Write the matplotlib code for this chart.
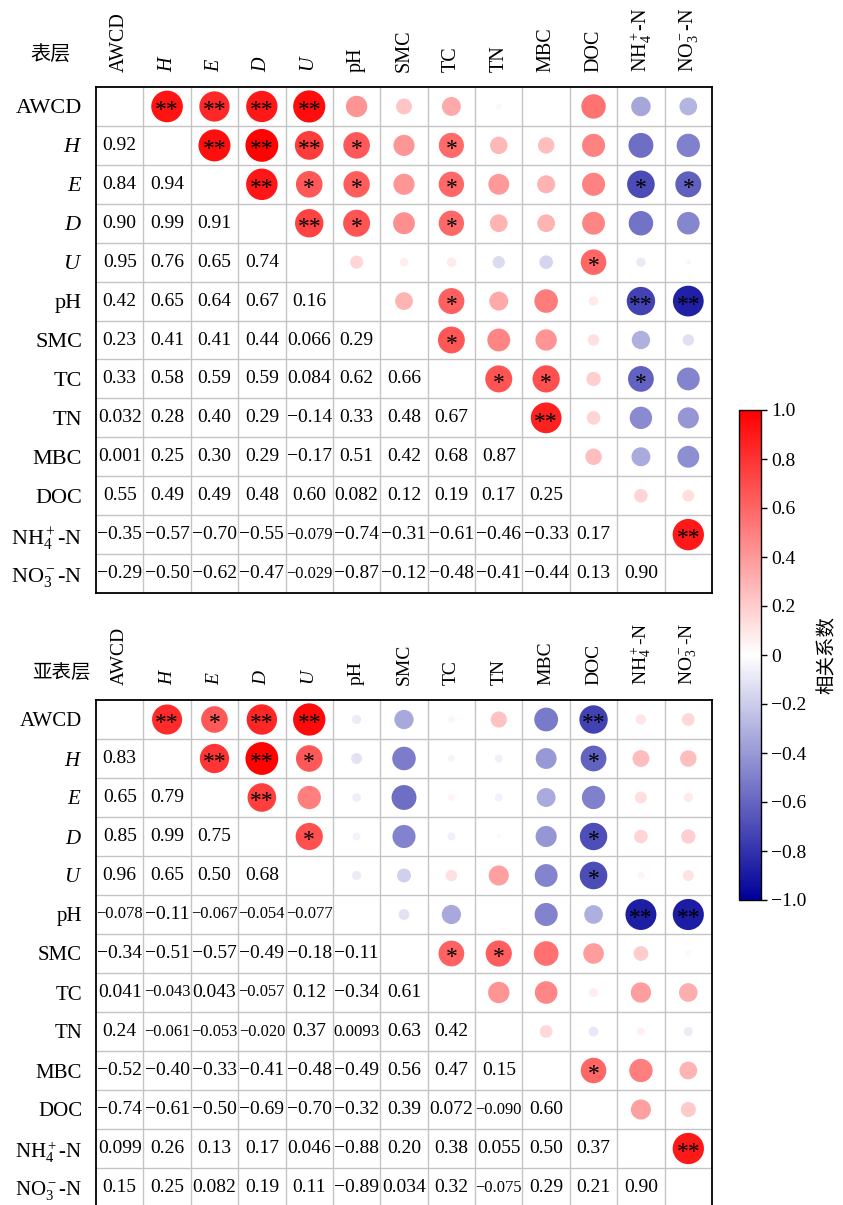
import numpy as np
import matplotlib

matplotlib.use("Agg")
import matplotlib.pyplot as plt
from matplotlib.colors import LinearSegmentedColormap, Normalize
from matplotlib.cm import ScalarMappable
from matplotlib.transforms import offset_copy

plt.rcParams.update({
    "font.family": ["Liberation Serif", "Noto Sans CJK SC"],
    "mathtext.fontset": "custom",
    "mathtext.rm": "Liberation Serif",
    "mathtext.it": "Liberation Serif:italic",
    "mathtext.bf": "Liberation Serif:bold",
    "axes.unicode_minus": True,
})

# nombres internos y etiquetas mostradas
NOMBRES = ["AWCD", "H", "E", "D", "U", "pH", "SMC", "TC", "TN", "MBC", "DOC", "NH4", "NO3"]
ETIQUETAS = ["AWCD", "$H$", "$E$", "$D$", "$U$", "pH", "SMC", "TC", "TN", "MBC", "DOC",
             "NH$_4^+$-N", "NO$_3^-$-N"]

# triángulo inferior: coeficientes tal como aparecen impresos
SUP_INFERIOR = [
    [],
    ["0.92"],
    ["0.84", "0.94"],
    ["0.90", "0.99", "0.91"],
    ["0.95", "0.76", "0.65", "0.74"],
    ["0.42", "0.65", "0.64", "0.67", "0.16"],
    ["0.23", "0.41", "0.41", "0.44", "0.066", "0.29"],
    ["0.33", "0.58", "0.59", "0.59", "0.084", "0.62", "0.66"],
    ["0.032", "0.28", "0.40", "0.29", "−0.14", "0.33", "0.48", "0.67"],
    ["0.001", "0.25", "0.30", "0.29", "−0.17", "0.51", "0.42", "0.68", "0.87"],
    ["0.55", "0.49", "0.49", "0.48", "0.60", "0.082", "0.12", "0.19", "0.17", "0.25"],
    ["−0.35", "−0.57", "−0.70", "−0.55", "−0.079", "−0.74", "−0.31", "−0.61", "−0.46",
     "−0.33", "0.17"],
    ["−0.29", "−0.50", "−0.62", "−0.47", "−0.029", "−0.87", "−0.12", "−0.48", "−0.41",
     "−0.44", "0.13", "0.90"],
]

SUB_INFERIOR = [
    [],
    ["0.83"],
    ["0.65", "0.79"],
    ["0.85", "0.99", "0.75"],
    ["0.96", "0.65", "0.50", "0.68"],
    ["−0.078", "−0.11", "−0.067", "−0.054", "−0.077"],
    ["−0.34", "−0.51", "−0.57", "−0.49", "−0.18", "−0.11"],
    ["0.041", "−0.043", "0.043", "−0.057", "0.12", "−0.34", "0.61"],
    ["0.24", "−0.061", "−0.053", "−0.020", "0.37", "0.0093", "0.63", "0.42"],
    ["−0.52", "−0.40", "−0.33", "−0.41", "−0.48", "−0.49", "0.56", "0.47", "0.15"],
    ["−0.74", "−0.61", "−0.50", "−0.69", "−0.70", "−0.32", "0.39", "0.072", "−0.090", "0.60"],
    ["0.099", "0.26", "0.13", "0.17", "0.046", "−0.88", "0.20", "0.38", "0.055", "0.50", "0.37"],
    ["0.15", "0.25", "0.082", "0.19", "0.11", "−0.89", "0.034", "0.32", "−0.075", "0.29",
     "0.21", "0.90"],
]

# significancia en el triángulo superior (fila, columna, marca)
SUP_SIG = [
    ("AWCD", "H", "**"), ("AWCD", "E", "**"), ("AWCD", "D", "**"), ("AWCD", "U", "**"),
    ("H", "E", "**"), ("H", "D", "**"), ("H", "U", "**"), ("H", "pH", "*"), ("H", "TC", "*"),
    ("E", "D", "**"), ("E", "U", "*"), ("E", "pH", "*"), ("E", "TC", "*"),
    ("E", "NH4", "*"), ("E", "NO3", "*"),
    ("D", "U", "**"), ("D", "pH", "*"), ("D", "TC", "*"),
    ("U", "DOC", "*"),
    ("pH", "TC", "*"), ("pH", "NH4", "**"), ("pH", "NO3", "**"),
    ("SMC", "TC", "*"),
    ("TC", "TN", "*"), ("TC", "MBC", "*"), ("TC", "NH4", "*"),
    ("TN", "MBC", "**"),
    ("NH4", "NO3", "**"),
]

SUB_SIG = [
    ("AWCD", "H", "**"), ("AWCD", "E", "*"), ("AWCD", "D", "**"), ("AWCD", "U", "**"),
    ("AWCD", "DOC", "**"),
    ("H", "E", "**"), ("H", "D", "**"), ("H", "U", "*"), ("H", "DOC", "*"),
    ("E", "D", "**"),
    ("D", "U", "*"), ("D", "DOC", "*"),
    ("U", "DOC", "*"),
    ("pH", "NH4", "**"), ("pH", "NO3", "**"),
    ("SMC", "TC", "*"), ("SMC", "TN", "*"),
    ("MBC", "DOC", "*"),
    ("NH4", "NO3", "**"),
]

CMAP = LinearSegmentedColormap.from_list("azul_rojo", ["#000099", "#ffffff", "#ff0000"])
NORM = Normalize(-1, 1)
GRIS = "#c4c4c4"
S_MAX = 564  # area (pt^2) del circulo para |r| = 1

W, H = 843, 1205
fig = plt.figure(figsize=(W / 100, H / 100), dpi=100)
renderer = fig.canvas.get_renderer()


def _a_float(s):
    return float(s.replace("−", "-"))


def _matriz(ax, inferior, sig, fs_filas, fs_cols):
    n = len(NOMBRES)
    mat = np.zeros((n, n))
    for i, fila in enumerate(inferior):
        for j, s in enumerate(fila):
            mat[i, j] = mat[j, i] = _a_float(s)

    ax.set_xlim(-0.5, n - 0.5)
    ax.set_ylim(n - 0.5, -0.5)
    for k in range(1, n):
        ax.axhline(k - 0.5, color=GRIS, lw=1, zorder=0)
        ax.axvline(k - 0.5, color=GRIS, lw=1, zorder=0)
    for sp in ax.spines.values():
        sp.set_linewidth(1.3)

    ii, jj = np.triu_indices(n, 1)
    vals = mat[ii, jj]
    ax.scatter(jj, ii, s=S_MAX * np.abs(vals), c=vals, cmap=CMAP, norm=NORM,
               linewidths=0, zorder=2)

    # el asterisco de Times queda alto: bajar la linea base
    trans = offset_copy(ax.transData, fig=fig, y=-7, units="points")
    for a, b, marca in sig:
        i, j = NOMBRES.index(a), NOMBRES.index(b)
        ax.text(j, i, marca, ha="center", va="baseline", fontsize=17,
                transform=trans, zorder=3)

    ancho_celda = ax.get_window_extent(renderer).width / n
    for i, fila in enumerate(inferior):
        for j, s in enumerate(fila):
            t = ax.text(j, i, s, ha="center", va="center", fontsize=14, zorder=3)
            w = t.get_window_extent(renderer).width
            if w > ancho_celda - 1:
                t.set_fontsize(14 * (ancho_celda - 1) / w)

    ax.set_yticks(range(n), ETIQUETAS, fontsize=fs_filas)
    ax.xaxis.tick_top()
    ax.set_xticks(range(n), ETIQUETAS, fontsize=fs_cols, rotation=90)
    ax.tick_params(axis="y", length=0, pad=10)
    ax.tick_params(axis="x", length=0, pad=11)


ax1 = fig.add_axes([96 / W, 1 - 593 / H, 616 / W, 506 / H])
_matriz(ax1, SUP_INFERIOR, SUP_SIG, 16, 14.5)
fig.text(50 / W, 1 - 55 / H, "表层", ha="center", va="center", fontsize=14.5)

ax2 = fig.add_axes([96 / W, 1 - 1207 / H, 616 / W, 507 / H])
_matriz(ax2, SUB_INFERIOR, SUB_SIG, 15, 14)
fig.text(61 / W, 1 - 673 / H, "亚表层", ha="center", va="center", fontsize=14)

cax = fig.add_axes([739 / W, 1 - 900 / H, 22 / W, 490 / H])
ticks = np.round(np.linspace(-1, 1, 11), 1)
cb = fig.colorbar(ScalarMappable(norm=NORM, cmap=CMAP), cax=cax, ticks=ticks)
cb.ax.set_yticklabels(["0" if t == 0 else f"{t:.1f}".replace("-", "−") for t in ticks])
cb.ax.tick_params(labelsize=14, length=4, width=1)
cb.outline.set_linewidth(1)
cb.set_label("相关系数", fontsize=14, labelpad=8)

fig.savefig("out.png", dpi=100)
plt.close(fig)
